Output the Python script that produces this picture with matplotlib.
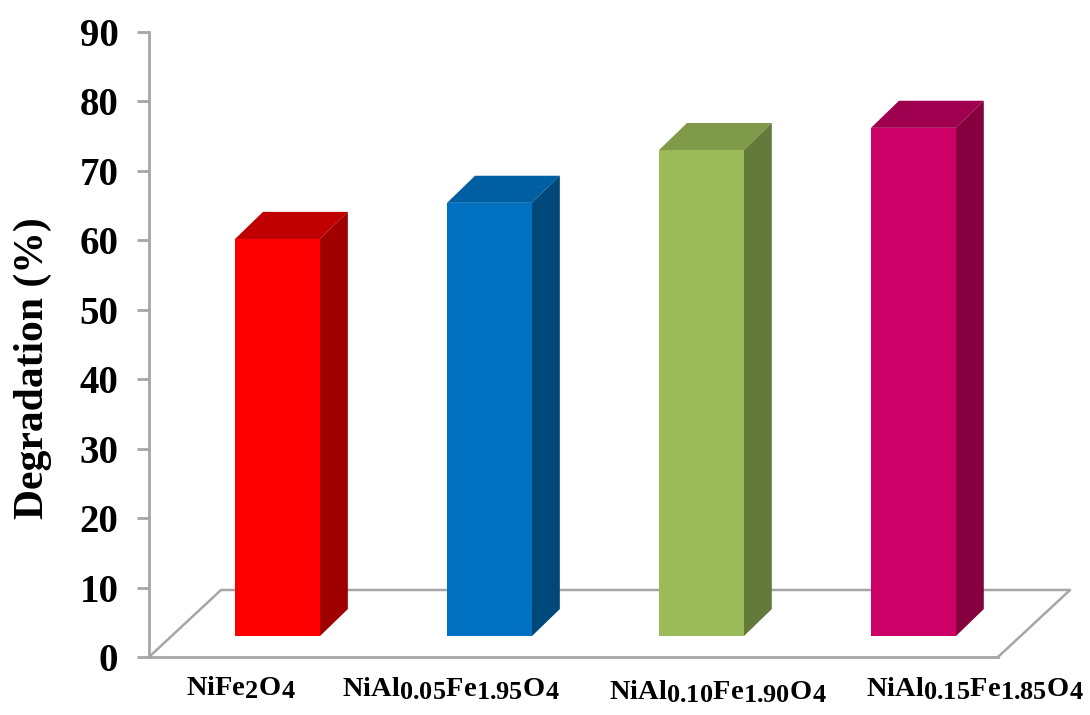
import matplotlib
matplotlib.use("Agg")
import matplotlib.pyplot as plt
import matplotlib._mathtext as mathtext_internal

plt.rcParams["font.family"] = ["Liberation Serif", "DejaVu Serif"]
plt.rcParams["font.weight"] = "bold"
plt.rcParams["mathtext.fontset"] = "custom"
plt.rcParams["mathtext.rm"] = "Liberation Serif:bold"
plt.rcParams["mathtext.bf"] = "Liberation Serif:bold"
plt.rcParams["mathtext.default"] = "bf"
# subscripts are almost as large as the main letters in this chart
mathtext_internal.SHRINK_FACTOR = 0.92

# Data
samples = [r"$\mathbf{NiFe_2O_4}$",
           r"$\mathbf{NiAl_{0.05}Fe_{1.95}O_4}$",
           r"$\mathbf{NiAl_{0.10}Fe_{1.90}O_4}$",
           r"$\mathbf{NiAl_{0.15}Fe_{1.85}O_4}$"]
degradation = [60.2, 65.4, 73.0, 76.2]
y_ticks = [0, 10, 20, 30, 40, 50, 60, 70, 80, 90]

# Colours for front, top and side of each bar
front_colors = ["#FF0000", "#0070C0", "#9BBB59", "#CC0066"]
top_colors = ["#C00000", "#005EA2", "#7F9A49", "#A00050"]
side_colors = ["#A00000", "#00477A", "#647A3A", "#85003F"]
grey = "#A6A6A6"

W, H = 1090, 715
fig = plt.figure(figsize=(W / 100, H / 100), dpi=100)
ax = fig.add_axes([149 / W, 1 - 657 / H, (998 - 149) / W, (657 - 32) / H])

# one category is 212 px, ten percent is 69.4 px
ax.set_xlim(-0.606, 3.399)
ax.set_ylim(0, 90)

bar_width = 0.40
bar_base = 3.0
depth_x, depth_y = 0.132, 0.39       # bar depth
floor_x, floor_y = 0.34, 0.965       # floor depth

# Floor
x0, x1 = ax.get_xlim()
ax.plot([x0, x0 + floor_x, x1 + floor_x, x1],
        [0, floor_y * 10, floor_y * 10, 0],
        color=grey, lw=1.8, clip_on=False, zorder=1)

# Bars with their 3D faces
for i, val in enumerate(degradation):
    left = i - bar_width / 2
    right = i + bar_width / 2
    ax.bar(i, val - bar_base, bottom=bar_base, width=bar_width,
           color=front_colors[i], zorder=3)
    ax.fill([left, right, right + depth_x, left + depth_x],
            [val, val, val + depth_y * 10, val + depth_y * 10],
            color=top_colors[i], lw=0, zorder=2, clip_on=False)
    ax.fill([right, right + depth_x, right + depth_x, right],
            [bar_base, bar_base + depth_y * 10, val + depth_y * 10, val],
            color=side_colors[i], lw=0, zorder=2, clip_on=False)

# Axes styling
for side in ["top", "right"]:
    ax.spines[side].set_visible(False)
for side in ["left", "bottom"]:
    ax.spines[side].set_color(grey)
    ax.spines[side].set_linewidth(2)

ax.set_yticks(y_ticks)
ax.tick_params(axis="y", length=9, width=2, color=grey, pad=13, labelsize=28)
ax.set_xticks([])
ax.set_ylabel("Degradation (%)", fontsize=30, fontweight="bold")
ax.yaxis.set_label_coords(-97 / (998 - 149), 0.5 - 24 / 625)

# x labels sit off the bar centres, shifted in points
label_shift = [-26, -28, 12, 44]
label_drop = [-22, -23, -25, -23]
for i, lab in enumerate(samples):
    ax.annotate(lab, xy=(i, 0), xycoords=("data", "axes fraction"),
                xytext=(label_shift[i], label_drop[i]), textcoords="offset points",
                ha="center", va="center", fontsize=20.5, annotation_clip=False)

fig.savefig("out.png", dpi=100)
